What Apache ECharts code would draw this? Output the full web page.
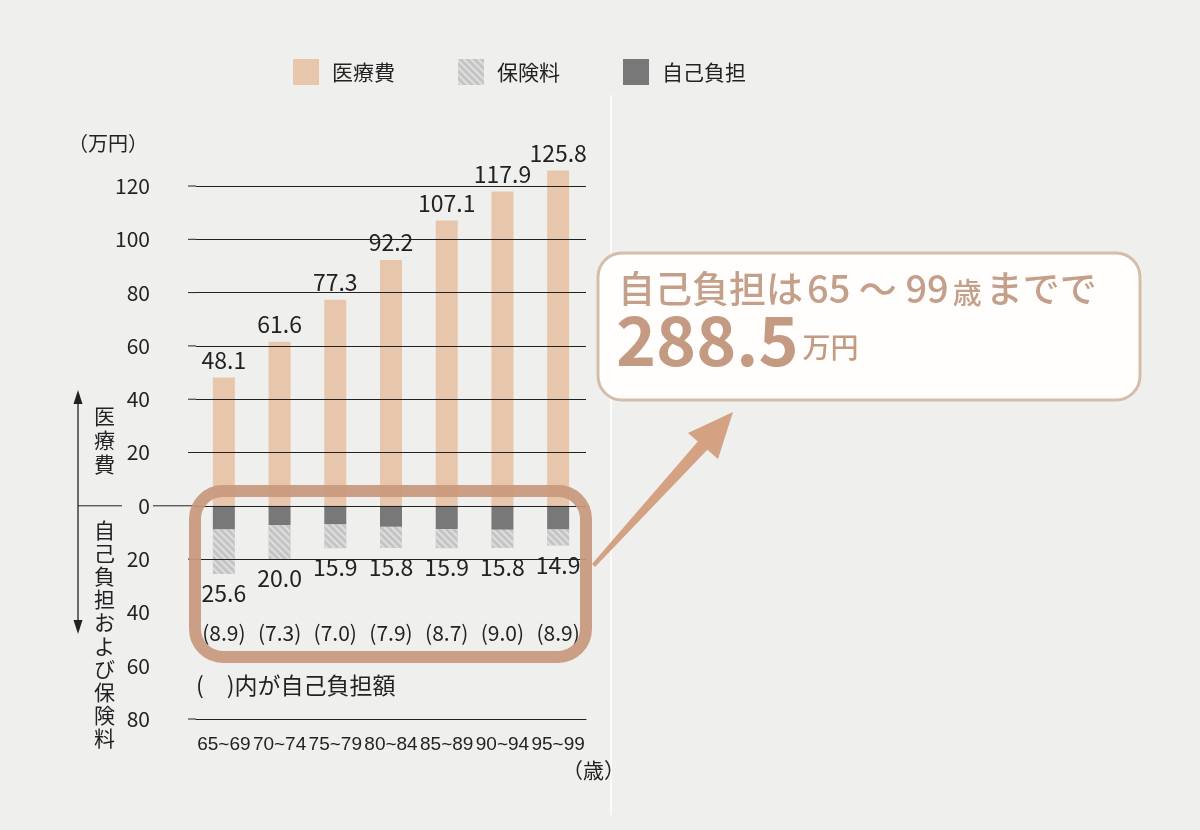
<!DOCTYPE html>
<html>
<head>
<meta charset="utf-8">
<script src="https://cdn.jsdelivr.net/npm/echarts@6/dist/echarts.min.js"></script>
<style>
  html, body { margin: 0; padding: 0; background: #eff0ee; }
  #main { width: 1200px; height: 830px; }
</style>
</head>
<body>
<div id="main"></div>
<script>
// 年齢階級
var ageGroups = ['65~69', '70~74', '75~79', '80~84', '85~89', '90~94', '95~99'];
// 医療費（万円）
var medicalCost = [48.1, 61.6, 77.3, 92.2, 107.1, 117.9, 125.8];
// 自己負担および保険料の合計
var burdenTotal = [25.6, 20.0, 15.9, 15.8, 15.9, 15.8, 14.9];
// 自己負担額
var selfPay = [8.9, 7.3, 7.0, 7.9, 8.7, 9.0, 8.9];
// 保険料 = 合計 - 自己負担
var premium = burdenTotal.map(function (v, i) { return +(v - selfPay[i]).toFixed(1); });
// 横線を引く目盛り
var gridValues = [120, 100, 80, 60, 40, 20, 0, -20];
// 左に短い目盛り線を出す値
var tickValues = [120, 100, 80, 60, 40, 20, -20, -80];

var FONT = "'Noto Sans CJK JP', 'Noto Sans', sans-serif";
var NUM = "'Liberation Sans', 'Noto Sans', sans-serif";
var SELF_ROW = -47.6; // (x.x) 行の高さ
var TAN = '#c8987c';

var chart = echarts.init(document.getElementById('main'));

var option = {
    backgroundColor: '#eff0ee',
    textStyle: { fontFamily: FONT },
    legend: {
        top: 59,
        left: 293,
        padding: 0,
        itemWidth: 26,
        itemHeight: 26,
        itemGap: 63,
        icon: 'rect',
        data: ['医療費', '保険料', '自己負担'],
        textStyle: { fontSize: 21, color: '#222', fontFamily: FONT, padding: [0, 0, 0, 8] }
    },
    grid: { left: 196, right: 614, top: 186, bottom: 111 },
    xAxis: {
        type: 'category',
        data: ageGroups,
        axisLine: { onZero: false, lineStyle: { color: '#222', width: 1 } },
        axisTick: { show: false },
        axisLabel: { interval: 0, fontSize: 19, color: '#222', fontFamily: NUM, margin: 16 }
    },
    yAxis: {
        type: 'value',
        min: -80,
        max: 120,
        interval: 20,
        axisLine: { show: false },
        axisTick: { show: false },
        splitLine: { show: false },
        axisLabel: {
            fontSize: 21, color: '#222', margin: 46,
            formatter: function (v) { return Math.abs(v); }
        }
    },
    series: [
        {
            name: 'grid',
            type: 'line',
            z: 1,
            data: [],
            silent: true,
            markLine: {
                silent: true,
                symbol: 'none',
                label: { show: false },
                lineStyle: { color: '#222', width: 1, type: 'solid' },
                data: gridValues.map(function (v) { return { yAxis: v }; })
            }
        },
        {
            name: '医療費',
            type: 'bar',
            stack: 'cost',
            barWidth: 22,
            clip: false,
            itemStyle: { color: '#e8c6ab' },
            label: {
                show: true, position: 'top', distance: 6,
                fontSize: 23, color: '#222',
                formatter: function (p) { return p.value.toFixed(1); }
            },
            data: medicalCost
        },
        {
            name: '自己負担',
            type: 'bar',
            stack: 'cost',
            barWidth: 22,
            itemStyle: { color: '#787878' },
            data: selfPay.map(function (v) { return -v; })
        },
        {
            name: '保険料',
            type: 'bar',
            stack: 'cost',
            barWidth: 22,
            itemStyle: {
                color: '#c4c4c4',
                decal: {
                    symbol: 'rect',
                    color: '#dedede',
                    dashArrayX: [1, 0],
                    dashArrayY: [2, 3],
                    rotation: Math.PI / 4
                }
            },
            label: {
                show: true, position: 'bottom', distance: 8,
                fontSize: 23, color: '#222',
                formatter: function (p) { return burdenTotal[p.dataIndex].toFixed(1); }
            },
            data: premium.map(function (v) { return -v; })
        },
        {
            name: '自己負担額',
            type: 'scatter',
            symbolSize: 0,
            silent: true,
            itemStyle: { opacity: 1 },
            label: {
                show: true, position: 'inside',
                fontSize: 21, color: '#222', opacity: 1,
                formatter: function (p) { return '(' + selfPay[p.dataIndex].toFixed(1) + ')'; }
            },
            data: selfPay.map(function () { return SELF_ROW; })
        }
    ]
};
chart.setOption(option);

var y0 = chart.convertToPixel({ yAxisIndex: 0 }, 0);
var tickMarks = tickValues.map(function (v) {
    var y = chart.convertToPixel({ yAxisIndex: 0 }, v);
    return { type: 'line', shape: { x1: 188, y1: y, x2: 196, y2: y }, style: { stroke: '#222', lineWidth: 1 } };
});

chart.setOption({
    graphic: tickMarks.concat([
        // 区切りの白線
        { type: 'line', z: 0, shape: { x1: 611, y1: 95, x2: 611, y2: 815 }, style: { stroke: '#fbfbfb', lineWidth: 2 } },
        // 0 の線（左へ延長）
        { type: 'line', shape: { x1: 78, y1: y0, x2: 122, y2: y0 }, style: { stroke: '#222', lineWidth: 1 } },
        { type: 'line', shape: { x1: 153, y1: y0, x2: 196, y2: y0 }, style: { stroke: '#222', lineWidth: 1 } },
        // 上下の矢印
        { type: 'line', shape: { x1: 78, y1: 400, x2: 78, y2: 622 }, style: { stroke: '#222', lineWidth: 1.3 } },
        { type: 'polygon', shape: { points: [[78, 390], [73.5, 404], [82.5, 404]] }, style: { fill: '#222' } },
        { type: 'polygon', shape: { points: [[78, 634], [73.5, 620], [82.5, 620]] }, style: { fill: '#222' } },
        // 縦書きラベル
        { type: 'text', left: 94, top: 404, style: { text: '医\n療\n費', font: '21px ' + FONT, lineHeight: 24, fill: '#222' } },
        { type: 'text', left: 94, top: 518, style: { text: '自\n己\n負\n担\nお\nよ\nび\n保\n険\n料', font: '21px ' + FONT, lineHeight: 23.2, fill: '#222' } },
        // 単位
        { type: 'text', left: 68, top: 133, style: { text: '（万円）', font: '20px ' + FONT, fill: '#222' } },
        { type: 'text', left: 562, top: 760, style: { text: '（歳）', font: '21px ' + FONT, fill: '#222' } },
        { type: 'text', left: 196, top: 674, style: { text: '(　)内が自己負担額', font: '23px ' + FONT, fill: '#222' } },
        // 下部を囲む枠
        {
            type: 'rect', z: 100,
            shape: { x: 195, y: 491, width: 391, height: 166, r: 28 },
            style: { fill: 'none', stroke: TAN, lineWidth: 12, opacity: 0.92 }
        },
        // 吹き出し矢印
        {
            type: 'polygon', z: 100,
            shape: { points: [[592, 564], [595, 567], [709, 448], [700, 439]] },
            style: { fill: '#d4a283' }
        },
        {
            type: 'polygon', z: 100,
            shape: { points: [[733, 412], [688, 433], [718, 459]] },
            style: { fill: '#d4a283' }
        },
        // 吹き出し
        {
            type: 'rect', z: 100,
            shape: { x: 598, y: 253, width: 542, height: 147, r: 24 },
            style: { fill: '#fffefc', stroke: '#d5bdab', lineWidth: 3 }
        },
        {
            type: 'text', z: 101, left: 618, top: 270,
            style: {
                rich: {
                    a: { fontSize: 37, fontWeight: 500, fill: '#c49f8a', fontFamily: FONT },
                    d: { fontSize: 38, fontWeight: 500, fill: '#c49f8a', fontFamily: FONT, padding: [0, 4, 0, 4] },
                    b: { fontSize: 29, fontWeight: 500, fill: '#c49f8a', fontFamily: FONT, padding: [7, 4, 0, 0] }
                },
                text: '{a|自己負担は}{d|65 ～ 99}{b|歳}{a|までで}'
            }
        },
        {
            type: 'text', z: 101, left: 616, top: 306,
            style: {
                rich: {
                    n: { fontSize: 68, fontWeight: 'bold', fill: '#c49a82', fontFamily: FONT },
                    u: { fontSize: 28, fontWeight: 500, fill: '#c49a82', fontFamily: FONT, padding: [14, 0, 0, 4] }
                },
                text: '{n|288.5}{u|万円}'
            }
        }
    ])
});
</script>
</body>
</html>
